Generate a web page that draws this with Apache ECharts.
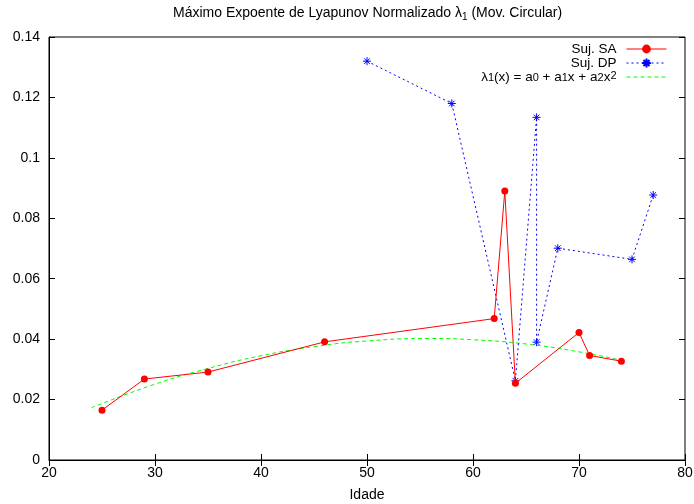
<!DOCTYPE html>
<html>
<head>
<meta charset="utf-8">
<script src="https://cdn.jsdelivr.net/npm/echarts@6/dist/echarts.min.js"></script>
<style>
  html, body { margin: 0; padding: 0; background: #fff; }
  #chart { width: 694px; height: 504px; }
</style>
</head>
<body>
<div id="chart"></div>
<script>
// Suj. SA
var saAge = [25, 29, 35, 46, 62, 63, 64, 70, 71, 74]
var saVal = [0.0165, 0.0268, 0.0291, 0.0391, 0.0468, 0.0890, 0.0254, 0.0422, 0.0346, 0.0327]
// Suj. DP
var dpAge = [50, 58, 64, 66, 66, 68, 75, 77]
var dpVal = [0.1320, 0.1180, 0.0262, 0.1134, 0.0390, 0.0701, 0.0664, 0.0877]
// ajuste quadratico
var fitAge = [24, 30, 35, 40, 45, 50, 56, 60, 65, 70, 74]
var fitVal = [0.0173, 0.0251, 0.0303, 0.0345, 0.0375, 0.0394, 0.0402, 0.0398, 0.0384, 0.0358, 0.0330]

function pairs (xs, ys) {
  return xs.map(function (x, i) { return [x, ys[i]] })
}

var font = 'Liberation Sans, Arial, sans-serif'
var star = 'path://M0,-5L0,5M-5,0L5,0M-3.5,-3.5L3.5,3.5M-3.5,3.5L3.5,-3.5'

var chart = echarts.init(document.getElementById('chart'))
var option = {
  animation: false,
  textStyle: { fontFamily: font },
  title: {
    text: 'Máximo Expoente de Lyapunov Normalizado {s|λ}{sub|1} (Mov. Circular)',
    left: 173,
    top: 5,
    padding: 0,
    textStyle: {
      fontSize: 14, fontWeight: 'normal', color: '#000', fontFamily: font,
      rich: {
        s: { fontSize: 14, color: '#000', fontFamily: font },
        sub: { fontSize: 10, color: '#000', verticalAlign: 'bottom', padding: [7, 0, 0, 0], fontFamily: font }
      }
    }
  },
  legend: {
    orient: 'vertical',
    right: 27,
    top: 42,
    padding: 0,
    align: 'right',
    itemGap: 0,
    itemWidth: 40,
    itemHeight: 11,
    lineStyle: { width: 1 },
    data: ['Suj. SA', 'Suj. DP', { name: 'fit', itemStyle: { opacity: 0 } }],
    formatter: function (name) {
      if (name === 'fit') {
        return '{t|λ}{b|1}{t|(x) = a}{b|0}{t| + a}{b|1}{t|x + a}{b|2}{t|x}{p|2}{g|}'
      }
      return '{t|' + name + '}{g|}'
    },
    textStyle: {
      color: '#000',
      fontSize: 13,
      rich: {
        t: { fontSize: 13.5, lineHeight: 13.5, color: '#000', fontFamily: font },
        b: { fontSize: 11, lineHeight: 2, color: '#000', verticalAlign: 'bottom', fontFamily: font },
        p: { fontSize: 11, lineHeight: 2, color: '#000', verticalAlign: 'top', fontFamily: font },
        g: { width: 5, lineHeight: 13.5 }
      }
    }
  },
  grid: {
    left: 49, right: 9, top: 37, bottom: 44,
    outerBoundsMode: 'none', containLabel: false,
    show: true, borderColor: '#000', borderWidth: 1
  },
  xAxis: [{
    type: 'value', min: 20, max: 80, interval: 10,
    name: 'Idade', nameLocation: 'middle', nameGap: 28,
    nameTextStyle: { color: '#000', fontSize: 14 },
    axisLine: { lineStyle: { color: '#000' } },
    axisTick: { inside: true, length: 6, lineStyle: { color: '#000' } },
    axisLabel: { color: '#000', fontSize: 14, margin: 6 },
    splitLine: { show: false }
  }, {
    type: 'value', min: 20, max: 80, interval: 10, position: 'top',
    axisLine: { show: false },
    axisTick: { inside: true, length: 6, lineStyle: { color: '#000' } },
    axisLabel: { show: false },
    splitLine: { show: false }
  }],
  yAxis: [{
    type: 'value', min: 0, max: 0.14, interval: 0.02,
    axisLine: { show: true, lineStyle: { color: '#000' } },
    axisTick: { show: true, inside: true, length: 6, lineStyle: { color: '#000' } },
    axisLabel: { color: '#000', fontSize: 14, margin: 9 },
    splitLine: { show: false }
  }, {
    type: 'value', min: 0, max: 0.14, interval: 0.02, position: 'right',
    axisLine: { show: false },
    axisTick: { show: true, inside: true, length: 6, lineStyle: { color: '#000' } },
    axisLabel: { show: false },
    splitLine: { show: false }
  }],
  series: [
    {
      name: 'Suj. SA',
      type: 'line',
      data: pairs(saAge, saVal),
      symbol: 'circle',
      symbolSize: 7,
      itemStyle: { color: '#ff0000' },
      lineStyle: { color: '#ff0000', width: 1 },
      z: 4
    },
    {
      name: 'Suj. DP',
      type: 'line',
      data: pairs(dpAge, dpVal),
      symbol: star,
      symbolSize: 8,
      itemStyle: { color: '#0000ff', borderColor: '#0000ff', borderWidth: 1 },
      lineStyle: { color: '#0000ff', width: 1, type: [2, 3] },
      z: 3
    },
    {
      name: 'fit',
      type: 'line',
      data: pairs(fitAge, fitVal),
      smooth: true,
      showSymbol: false,
      symbol: 'none',
      itemStyle: { color: '#00ff00' },
      lineStyle: { color: '#00ff00', width: 1, type: [4, 3] },
      z: 2
    }
  ]
}
chart.setOption(option)
</script>
</body>
</html>
